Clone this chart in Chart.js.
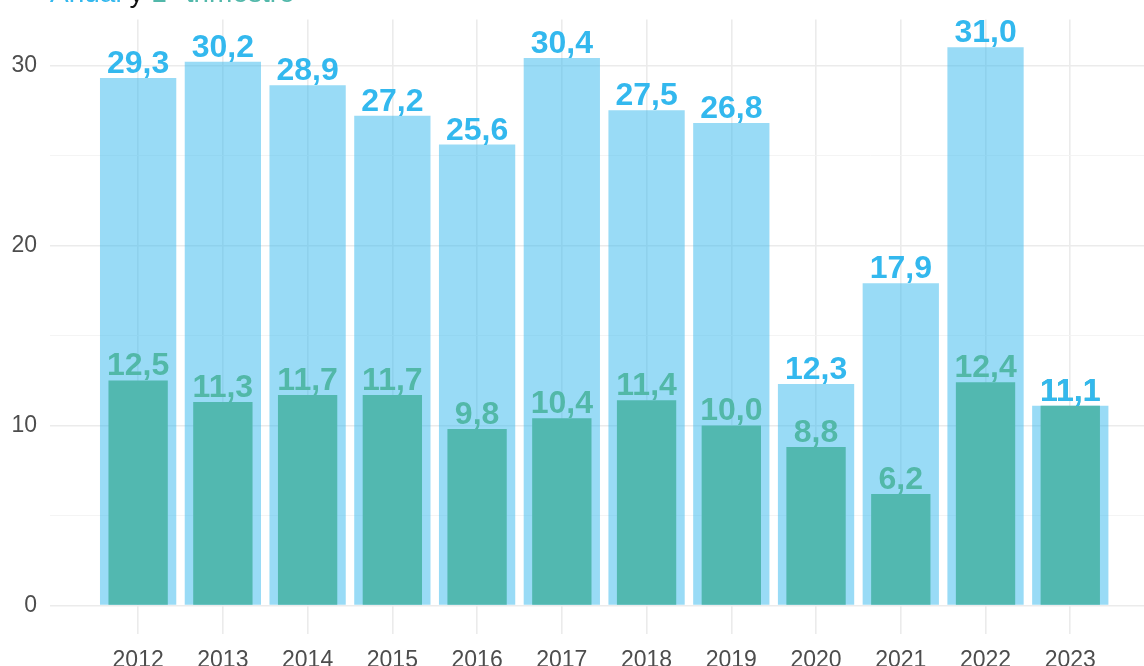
<!DOCTYPE html>
<html>
<head>
<meta charset="utf-8">
<script src="https://cdn.jsdelivr.net/npm/chart.js@4"></script>
<style>
  html, body { margin: 0; padding: 0; background: #ffffff; overflow: hidden; }
  #wrap { position: relative; width: 1144px; height: 666px; overflow: hidden; }
  #title { position: absolute; left: 50px; top: -21.5px; font: 28px "Liberation Sans", Arial, sans-serif; line-height: 28px; white-space: nowrap; z-index: 2; }
  canvas { position: absolute; left: 0; top: 0; }
</style>
</head>
<body>
<div id="wrap">
  <div id="title"><span style="color:#33B8EE">Anual</span> <span style="color:#111111">y</span> <span style="color:#52B8AA">1° trimestre</span></div>
  <canvas id="c" width="1144" height="666"></canvas>
</div>
<script>
const years = [2012, 2013, 2014, 2015, 2016, 2017, 2018, 2019, 2020, 2021, 2022, 2023];
const annual = [29.3, 30.2, 28.9, 27.2, 25.6, 30.4, 27.5, 26.8, 12.3, 17.9, 31.0, 11.1];
const firstQuarter = [12.5, 11.3, 11.7, 11.7, 9.8, 10.4, 11.4, 10.0, 8.8, 6.2, 12.4, 11.1];
const yTicks = [0, 5, 10, 15, 20, 25, 30];

const BLUE = '#33B8EE';
const BLUE_FILL = 'rgba(51,184,238,0.5)';
const TEAL = '#52B8B0';
const TEAL_LABEL = '#52B8A8';
const FONT = '"Liberation Sans", Arial, sans-serif';

const fmt = v => v.toFixed(1).replace('.', ',');

const labelPlugin = {
  id: 'barLabels',
  afterDatasetsDraw(chart) {
    const ctx = chart.ctx;
    ctx.save();
    ctx.font = 'bold 32px ' + FONT;
    ctx.textAlign = 'center';
    ctx.textBaseline = 'alphabetic';
    [1, 0].forEach(di => {
      const meta = chart.getDatasetMeta(di);
      const ds = chart.data.datasets[di];
      ctx.fillStyle = ds.labelColor;
      meta.data.forEach((bar, i) => {
        const v = ds.data[i].y;
        ctx.fillText(fmt(v), bar.x, bar.y - 5);
      });
    });
    ctx.restore();
  }
};

new Chart(document.getElementById('c'), {
  type: 'bar',
  data: {
    datasets: [
      {
        label: 'Anual',
        data: years.map((y, i) => ({ x: y, y: annual[i] })),
        backgroundColor: BLUE_FILL,
        labelColor: BLUE,
        barPercentage: 0.9,
        categoryPercentage: 1,
        grouped: false,
        order: 1
      },
      {
        label: '1° trimestre',
        data: years.map((y, i) => ({ x: y, y: firstQuarter[i] })),
        backgroundColor: TEAL,
        labelColor: TEAL_LABEL,
        barPercentage: 0.7,
        categoryPercentage: 1,
        grouped: false,
        order: 0
      }
    ]
  },
  options: {
    responsive: false,
    animation: false,
    devicePixelRatio: 1,
    layout: { padding: { top: 19.4, right: 0, left: 0, bottom: 0 } },
    plugins: { legend: { display: false }, tooltip: { enabled: false }, title: { display: false } },
    scales: {
      x: {
        type: 'linear',
        min: 2010.96,
        max: 2023.87,
        offset: false,
        afterBuildTicks: s => { s.ticks = years.map(v => ({ value: v })); },
        afterFit: s => { s.height = 32.5; s.paddingLeft = 0; s.paddingRight = 0; },
        grid: { color: '#EBEBEB', lineWidth: 1.6, drawTicks: false, offset: false },
        border: { display: false },
        ticks: {
          padding: 13,
          font: { size: 23, family: FONT },
          color: '#4D4D4D',
          autoSkip: false,
          maxRotation: 0,
          callback: v => String(v)
        }
      },
      y: {
        min: -1.55,
        max: 32.55,
        afterBuildTicks: s => { s.ticks = yTicks.map(v => ({ value: v })); },
        afterFit: s => { s.width = 50; s.paddingTop = 0; s.paddingBottom = 0; },
        grid: {
          drawTicks: false,
          color: ctx => (ctx.tick && ctx.tick.value % 10 === 0) ? '#EBEBEB' : '#F3F3F3',
          lineWidth: ctx => (ctx.tick && ctx.tick.value % 10 === 0) ? 1.6 : 0.9
        },
        border: { display: false },
        ticks: {
          padding: 13,
          font: { size: 23, family: FONT },
          color: '#4D4D4D',
          callback: v => (v % 10 === 0 ? String(v) : '')
        }
      }
    }
  },
  plugins: [labelPlugin]
});
</script>
</body>
</html>
